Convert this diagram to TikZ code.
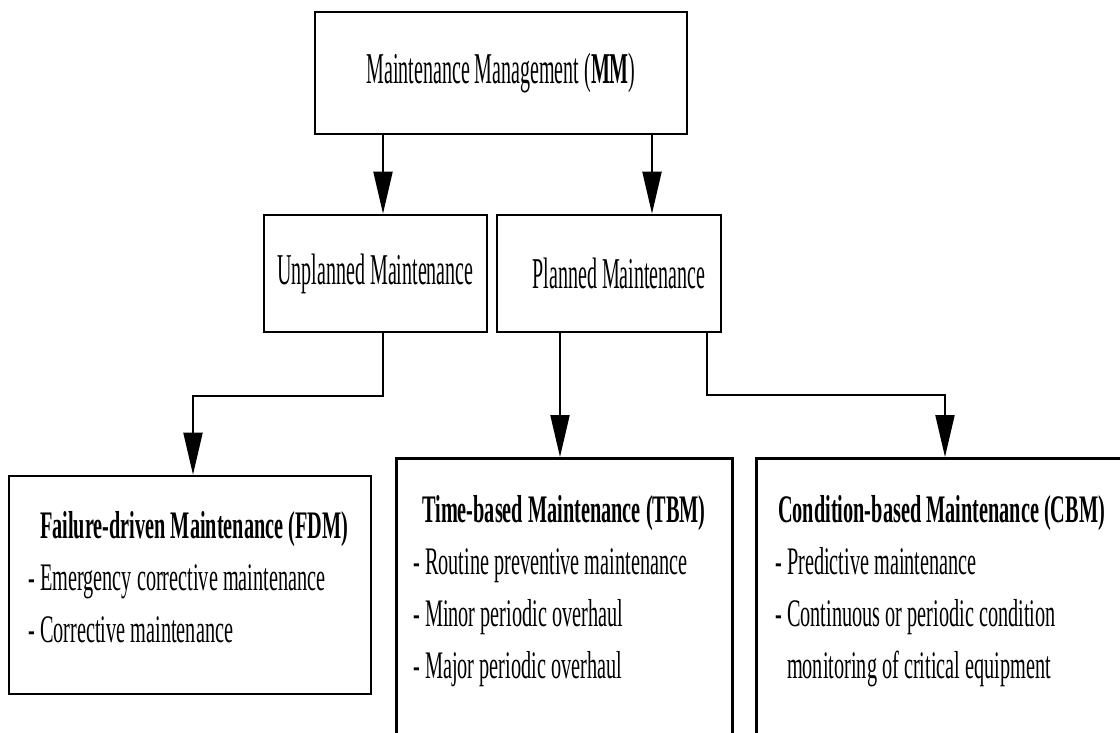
\documentclass[tikz,border=0pt]{standalone}
\usepackage{fontspec}
\setmainfont{Liberation Serif}[FakeStretch=0.52]
\newfontfamily\upperfont{Liberation Serif}[FakeStretch=0.455]
\usetikzlibrary{arrows.meta}

\begin{document}
\begin{tikzpicture}[x=1pt,y=-1pt,
    box/.style={draw,line width=2.6pt,inner sep=0pt,font=\upperfont\fontsize{44}{52}\selectfont},
    txt/.style={inner sep=0pt,align=left,anchor=base west,font=\fontsize{39}{52}\selectfont},
    arr/.style={line width=2pt,-{Triangle[length=42pt,width=19pt]}}]
    \useasboundingbox (0,0) rectangle (1120,732);
    \node[box,minimum width=372pt,minimum height=122pt] (mm) at (501,73) {\raisebox{4pt}{Maintenance Management (\textbf{MM})}};
    \node[box,minimum width=223pt,minimum height=117pt] (unplanned) at (375.5,273.5) {Unplanned Maintenance};
    \node[box,minimum width=224pt,minimum height=117pt] (planned) at (609,273.5) {\hspace*{20pt}Planned Maintenance};
    \node[box,minimum width=362pt,minimum height=218pt] (fdm) at (190,585) {};
    \node[box,minimum width=336pt,minimum height=400pt,anchor=north west] (tbm) at (395,457) {};
    \node[box,minimum width=500pt,minimum height=400pt,anchor=north west] (cbm) at (755,457) {};
    \node[txt] (fdmtext) at (28,642) {\hphantom{- }\textbf{Failure-driven Maintenance (FDM)}\\- Emergency corrective maintenance\\- Corrective maintenance};
    \node[txt] (tbmtext) at (413,678) {\hspace*{9pt}\textbf{Time-based Maintenance (TBM)}\\- Routine preventive maintenance\\- Minor periodic overhaul\\- Major periodic overhaul};
    \node[txt] (cbmtext) at (775,678) {\hspace*{3pt}\textbf{Condition-based Maintenance (CBM)}\\- Predictive maintenance\\- Continuous or periodic condition\\\hphantom{- }monitoring of critical equipment};
    \draw[arr] ([xshift=7.5pt]unplanned.north |- mm.south) -- ([xshift=7.5pt]unplanned.north);
    \draw[arr] ([xshift=43pt]planned.north |- mm.south) -- ([xshift=43pt]planned.north);
    \draw[arr] ([xshift=7.5pt]unplanned.south) -- ++(0,63) -| ([xshift=3pt]fdm.north);
    \draw[arr] (tbm.north -| 560,0) ++(0,-125) -- (tbm.north -| 560,0);
    \draw[arr] ([xshift=98pt]planned.south) -- ++(0,62) -| (cbm.north -| 945,0);
\end{tikzpicture}
\end{document}
